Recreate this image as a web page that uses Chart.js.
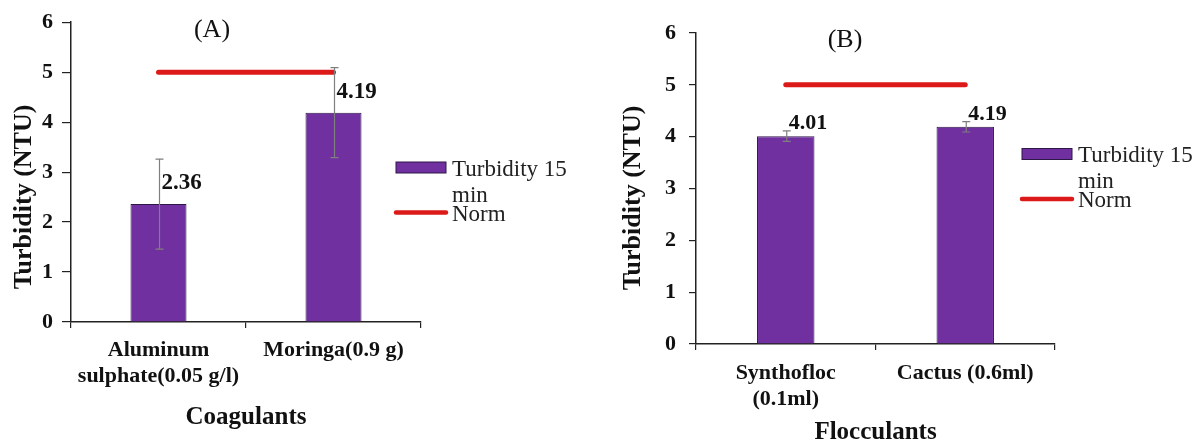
<!DOCTYPE html>
<html>
<head>
<meta charset="utf-8">
<script src="https://cdn.jsdelivr.net/npm/chart.js@4"></script>
<style>
  body { margin: 0; background: #fff; }
  .panel { position: absolute; top: 0; width: 597px; height: 442px; }
  #panelA { left: 0; }
  #panelB { left: 597px; }
</style>
</head>
<body>
<div class="panel" id="panelA"><canvas id="chartA"></canvas></div>
<div class="panel" id="panelB"><canvas id="chartB"></canvas></div>
<script>
// values
const coagulants = [['Aluminum', 'sulphate(0.05 g/l)'], 'Moringa(0.9 g)'];
const coagTurbidity = [2.36, 4.19];
const coagError = [0.9, 0.9];

const flocculants = [['Synthofloc', '(0.1ml)'], 'Cactus (0.6ml)'];
const flocTurbidity = [4.01, 4.19];
const flocError = [0.1, 0.1];

const normA = [5, 5];
const normB = [5, 5];

const seriesLabel = 'Turbidity 15 min';
const normLabel = 'Norm';
const yTitle = 'Turbidity (NTU)';

const FONT = '"Liberation Serif", "Times New Roman", serif';
const PURPLE = '#7030a0';
const RED = '#dd1a1a';
const AXIS = '#222';

// error bars, value labels, panel letter, y title and legend
const extras = {
  id: 'extras',
  afterDatasetsDraw(chart, args, opts) {
    const ctx = chart.ctx;
    const ys = chart.scales.y;
    const bars = chart.getDatasetMeta(0).data;
    const vals = chart.data.datasets[0].data;
    ctx.save();

    // error bars
    ctx.strokeStyle = '#7f7f7f';
    ctx.lineWidth = 1.2;
    vals.forEach((v, i) => {
      const cx = bars[i].x + 1;
      const t = ys.getPixelForValue(v + opts.errors[i]);
      const b = ys.getPixelForValue(v - opts.errors[i]);
      ctx.beginPath();
      ctx.moveTo(cx, t); ctx.lineTo(cx, b);
      ctx.moveTo(cx - 4, t); ctx.lineTo(cx + 4, t);
      ctx.moveTo(cx - 4, b); ctx.lineTo(cx + 4, b);
      ctx.stroke();
    });

    // value labels
    ctx.fillStyle = '#111';
    ctx.font = 'bold ' + opts.labelSize + 'px ' + FONT;
    ctx.textAlign = 'left';
    ctx.textBaseline = 'alphabetic';
    vals.forEach((v, i) => {
      ctx.fillText(v.toFixed(2), bars[i].x + 3, ys.getPixelForValue(v) - opts.labelLift);
    });

    // panel letter
    ctx.font = '26px ' + FONT;
    ctx.textAlign = 'center';
    ctx.fillText(opts.letter.text, opts.letter.x, opts.letter.y);

    // y axis title
    ctx.save();
    ctx.translate(opts.yTitle.x, opts.yTitle.y);
    ctx.rotate(-Math.PI / 2);
    ctx.font = 'bold 26px ' + FONT;
    ctx.textBaseline = 'middle';
    ctx.fillText(yTitle, 0, 0);
    ctx.restore();

    // legend
    const lg = opts.legend;
    ctx.font = '23px ' + FONT;
    ctx.textAlign = 'left';
    chart.data.datasets.forEach((ds, i) => {
      const cy = lg.y + i * 45;
      if (ds.type === 'line') {
        ctx.strokeStyle = ds.borderColor;
        ctx.lineWidth = 4.5;
        ctx.lineCap = 'round';
        ctx.beginPath();
        ctx.moveTo(lg.x, cy); ctx.lineTo(lg.x + 50, cy);
        ctx.stroke();
      } else {
        ctx.fillStyle = ds.backgroundColor;
        ctx.fillRect(lg.x, cy - 5.5, 50, 11);
        ctx.strokeStyle = ds.borderColor;
        ctx.lineWidth = 1;
        ctx.strokeRect(lg.x, cy - 5.5, 50, 11);
      }
      ctx.fillStyle = '#222';
      const words = ds.label.split(' ');
      const lines = [];
      let cur = '';
      words.forEach(w => {
        const test = cur ? cur + ' ' + w : w;
        if (cur && ctx.measureText(test).width > 135) { lines.push(cur); cur = w; }
        else cur = test;
      });
      lines.push(cur);
      lines.forEach((t, k) => ctx.fillText(t, lg.x + 56, cy + 8 + k * 26));
    });
    ctx.restore();
  }
};

function makeChart(id, cats, vals, errs, norm, xTitle, cfg) {
  return new Chart(document.getElementById(id), {
    type: 'bar',
    data: {
      labels: cats,
      datasets: [
        {
          type: 'bar',
          label: seriesLabel,
          data: vals,
          backgroundColor: PURPLE,
          borderColor: '#2e1848',
          borderWidth: 1,
          barPercentage: 0.32,
          categoryPercentage: 1
        },
        {
          type: 'line',
          label: normLabel,
          data: norm,
          borderColor: RED,
          borderWidth: 5,
          borderCapStyle: 'round',
          pointRadius: 0,
          fill: false
        }
      ]
    },
    options: {
      responsive: true,
      maintainAspectRatio: false,
      animation: false,
      layout: { padding: cfg.padding },
      plugins: {
        legend: { display: false },
        tooltip: { enabled: false },
        extras: {
          errors: errs,
          labelSize: cfg.labelSize,
          labelLift: cfg.labelLift,
          letter: cfg.letter,
          yTitle: cfg.yTitle,
          legend: cfg.legend
        }
      },
      scales: {
        x: {
          afterFit: s => { s.height = cfg.xHeight; },
          grid: { offset: true, drawOnChartArea: false, tickLength: 6, color: AXIS, lineWidth: 1.2 },
          border: { color: AXIS, width: 1.5 },
          ticks: {
            color: '#111',
            padding: cfg.xPad,
            maxRotation: 0,
            autoSkip: false,
            font: { family: FONT, size: 22, weight: 'bold', lineHeight: 1.2 }
          },
          title: {
            display: true,
            text: xTitle,
            color: '#111',
            padding: { top: 0, bottom: cfg.xTitlePad },
            font: { family: FONT, size: 25, weight: 'bold', lineHeight: 1 }
          }
        },
        y: {
          min: 0,
          max: 6,
          afterFit: s => { s.width = cfg.yWidth; },
          grid: { drawOnChartArea: false, tickLength: cfg.yTick, color: AXIS, lineWidth: 1.2 },
          border: { color: AXIS, width: 1.5 },
          ticks: {
            stepSize: 1,
            color: '#111',
            padding: cfg.yPad,
            font: { family: FONT, size: 22, weight: 'bold' }
          }
        }
      }
    },
    plugins: [extras]
  });
}

makeChart('chartA', coagulants, coagTurbidity, coagError, normA, 'Coagulants', {
  padding: { top: 20, right: 176, bottom: 0, left: 0 },
  xHeight: 120, yWidth: 71, yTick: 9, yPad: 9, xPad: 9, xTitlePad: 12, 
  labelSize: 23, labelLift: 15,
  letter: { text: '(A)', x: 212, y: 37 },
  yTitle: { x: 24, y: 197 },
  legend: { x: 396, y: 167.5 }
});

makeChart('chartB', flocculants, flocTurbidity, flocError, normB, 'Flocculants', {
  padding: { top: 33, right: 139, bottom: 0, left: 0 },
  xHeight: 98, yWidth: 99, yTick: 7, yPad: 13, xPad: 10, xTitlePad: -3,
  labelSize: 22, labelLift: 7,
  letter: { text: '(B)', x: 248, y: 47 },
  yTitle: { x: 36, y: 198 },
  legend: { x: 425, y: 154 }
});
</script>
</body>
</html>
